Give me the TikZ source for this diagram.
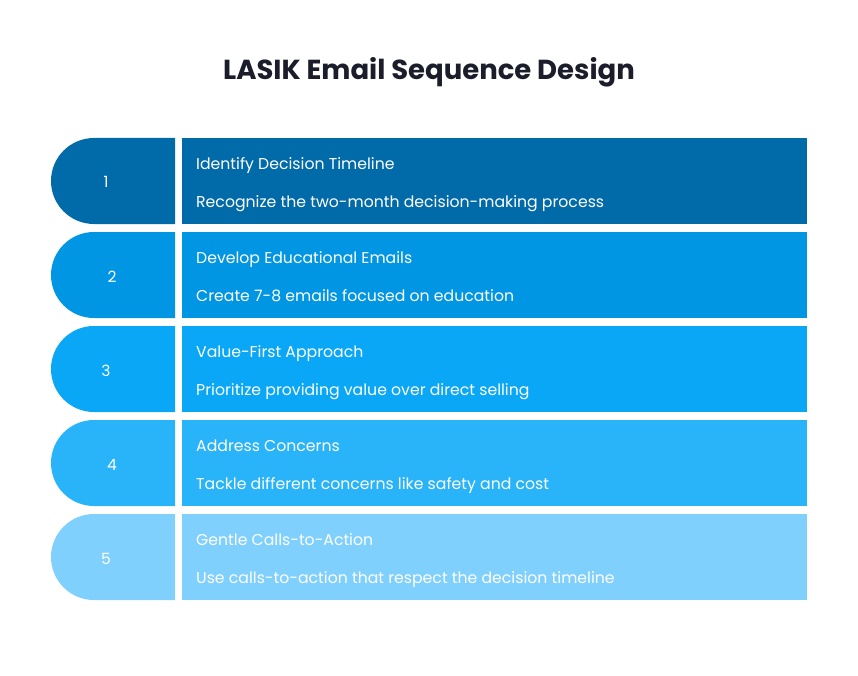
\documentclass[tikz,border=0pt]{standalone}
\usepackage{fontspec}
\setmainfont{Poppins}
\usetikzlibrary{positioning}

\definecolor{titleink}{HTML}{1B1D2A}
\definecolor{stepone}{HTML}{006BA8}
\definecolor{steptwo}{HTML}{0096E3}
\definecolor{stepthree}{HTML}{0AA7F6}
\definecolor{stepfour}{HTML}{29B4F9}
\definecolor{stepfive}{HTML}{80D0FD}

\begin{document}
\begin{tikzpicture}
  [x=1pt, y=-1pt,
   pagetitle/.style={font=\fontsize{27.5}{32}\selectfont\bfseries,
                     text=titleink},
   bodybox/.style={rectangle,
                   inner sep=0pt,
                   minimum width=625pt,
                   minimum height=86pt,
                   anchor=north west},
   numtext/.style={font=\fontsize{15.5}{18}\selectfont,
                   text=white,
                   anchor=base,
                   inner sep=0pt},
   linetext/.style={font=\fontsize{15.7}{18}\selectfont,
                    text=white,
                    anchor=base west,
                    inner sep=0pt}]
  \useasboundingbox (0,0) rectangle (858,676);
  \node[pagetitle] (title) at (429,72) {LASIK Email Sequence Design};
  \foreach \i/\col/\nx/\head/\desc in {
      1/stepone/106/Identify Decision Timeline/Recognize the two-month decision-making process,
      2/steptwo/112/Develop Educational Emails/Create 7-8 emails focused on education,
      3/stepthree/106/Value-First Approach/Prioritize providing value over direct selling,
      4/stepfour/112/Address Concerns/Tackle different concerns like safety and cost,
      5/stepfive/106/Gentle Calls-to-Action/Use calls-to-action that respect the decision timeline} {
    \pgfmathsetmacro\top{138+94*(\i-1)}
    % rounded tab with the step number
    \fill[\col] (175,\top) [rounded corners=43pt] -- (51,\top)
      -- (51,\top+86) [sharp corners] -- (175,\top+86) -- cycle;
    \node[numtext] (num\i) at (\nx,\top+50) {\i};
    % body of the step
    \node[bodybox, fill=\col] (body\i) at (182,\top) {};
    \node[linetext] (head\i) at (196,\top+31.5) {\head};
    \node[linetext] (desc\i) at (196,\top+69.5) {\desc};
  }
\end{tikzpicture}
\end{document}
